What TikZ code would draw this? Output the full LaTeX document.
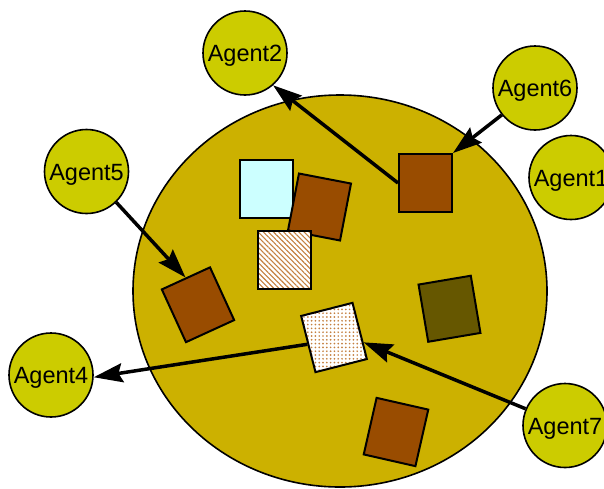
\documentclass[tikz,border=0pt]{standalone}
\usepackage{fontspec}
\setmainfont{Liberation Sans}
\usetikzlibrary{arrows.meta,patterns.meta,shapes.geometric,calc}

\definecolor{poolfill}{RGB}{204,177,0}
\definecolor{agentfill}{RGB}{204,204,0}
\definecolor{brownbox}{RGB}{153,76,0}
\definecolor{olivebox}{RGB}{102,87,0}
\definecolor{cyanbox}{RGB}{204,255,255}
\definecolor{hatchcol}{RGB}{196,128,64}

\begin{document}
\begin{tikzpicture}[x=1pt,y=-1pt,
  agent/.style={circle,draw=black,line width=1.6pt,fill=agentfill,
    minimum size=84pt,inner sep=0pt,
    font=\fontsize{23.5}{24}\selectfont,text height=17pt,text depth=0pt},
  block/.style={rectangle,draw=black,line width=2pt,
    minimum width=53pt,minimum height=58pt,inner sep=0pt},
  link/.style={line width=3.5pt,
    -{Stealth[length=29pt,width=19pt,inset=4pt]}}]

\useasboundingbox (0,0) rectangle (604,488);
\clip (0,0) rectangle (604,488);

% shared pool
\node[ellipse,draw=black,line width=1.6pt,fill=poolfill,
      minimum width=414pt,minimum height=392pt,inner sep=0pt]
      (pool) at (340,291) {};

% artefacts in the pool
\node[block,fill=cyanbox] (cy) at (266,189) {};
\node[block,fill=brownbox,rotate=-10.9] (b3) at (319.5,207) {};
\node[block,preaction={fill=white},pattern color=hatchcol,
      pattern={Lines[angle=-45,distance=3.6pt,line width=1.1pt]}]
      (hx) at (284,259.5) {};
\node[block,fill=brownbox] (b4) at (425.5,183) {};
\node[block,fill=brownbox,rotate=24.6] (b5) at (198,304.75) {};
\node[block,preaction={fill=white},pattern color=hatchcol,rotate=14.3,
      pattern={Dots[radius=0.95pt,distance=3.8pt]}]
      (dt) at (334,337.5) {};
\node[block,fill=olivebox,rotate=9.6] (ol) at (449.5,308.75) {};
\node[block,fill=brownbox,rotate=-12.8] (b6) at (396,432) {};

% agents
\node[agent] (ag2) at (245,53) {Agent2};
\node[agent] (ag6) at (535,88) {Agent6};
\node[agent] (ag1) at (571,177.5) {Agent1};
\node[agent] (ag5) at (86.5,171.5) {Agent5};
\node[agent] (ag4) at (51,375) {Agent4};
\node[agent] (ag7) at (565,425.5) {Agent7};

% interactions
\coordinate (dtin) at ($(dt.north east)!0.7!(dt.south east)$);
\draw[link] (b4.west) -- (ag2.-49);
\draw[link] (ag6.-141) -- (b4.north east);
\draw[link] (ag5.-46) -- (b5.north);
\draw[link] (dt.west) -- (ag4.-3);
\draw[link] (ag7.157) -- (dtin);
\end{tikzpicture}
\end{document}
